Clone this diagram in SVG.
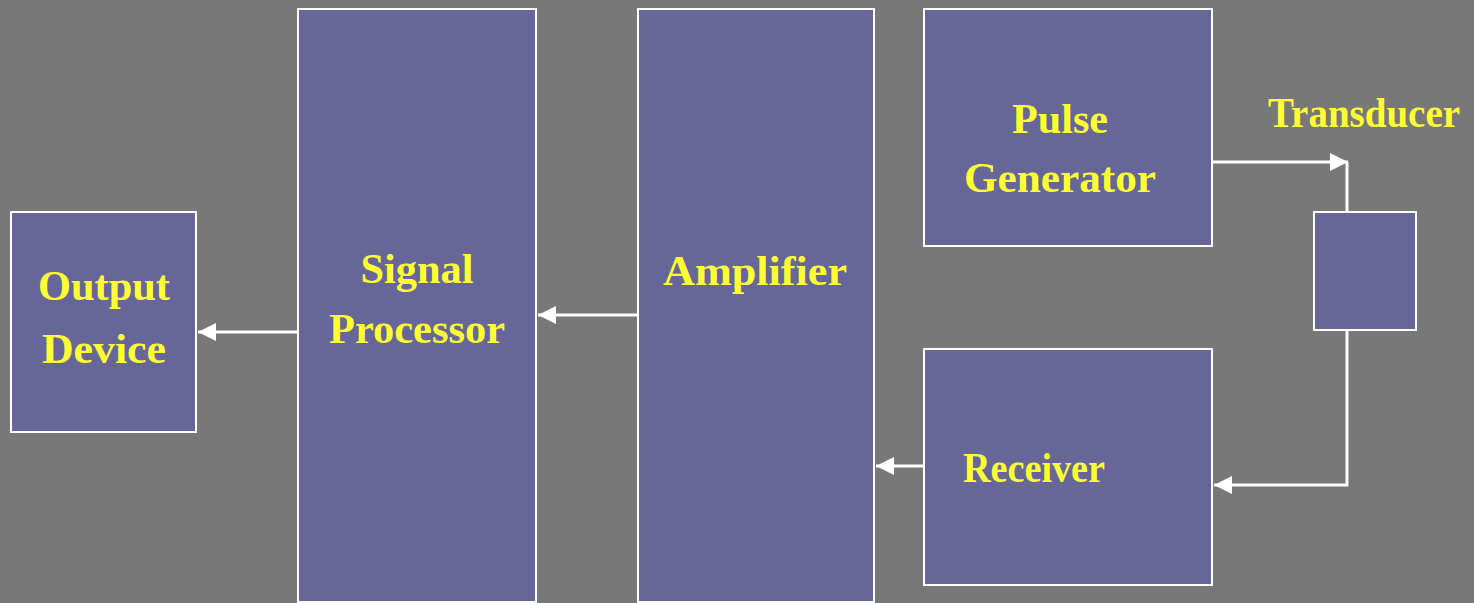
<svg xmlns="http://www.w3.org/2000/svg" width="1474" height="603" viewBox="0 0 1474 603">
<style>
.box{fill:#666699;stroke:#ffffff;stroke-width:2}
.lbl{font-family:"Liberation Serif","Times New Roman",serif;font-weight:bold;font-size:42px;fill:#ffff33;text-anchor:middle}
.con{fill:none;stroke:#ffffff;stroke-width:3}
</style>
<defs>
<marker id="arr" viewBox="0 0 12 12" refX="12" refY="6" markerWidth="18" markerHeight="18" markerUnits="userSpaceOnUse" orient="auto">
<path d="M0,0 L12,6 L0,12 z" fill="#ffffff"/>
</marker>
</defs>
<rect width="1474" height="603" fill="#787878"/>
<g id="output-device">
<rect class="box" x="11" y="212" width="185" height="220"/>
<text class="lbl" x="104" y="300" textLength="132" lengthAdjust="spacingAndGlyphs">Output</text>
<text class="lbl" x="104" y="363" textLength="124" lengthAdjust="spacingAndGlyphs">Device</text>
</g>
<g id="signal-processor">
<rect class="box" x="298" y="9" width="238" height="593"/>
<text class="lbl" x="417" y="283" textLength="113" lengthAdjust="spacingAndGlyphs">Signal</text>
<text class="lbl" x="417" y="343" textLength="176" lengthAdjust="spacingAndGlyphs">Processor</text>
</g>
<g id="amplifier">
<rect class="box" x="638" y="9" width="236" height="593"/>
<text class="lbl" x="755" y="285" textLength="184" lengthAdjust="spacingAndGlyphs">Amplifier</text>
</g>
<g id="pulse-generator">
<rect class="box" x="924" y="9" width="288" height="237"/>
<text class="lbl" x="1060" y="133" textLength="96" lengthAdjust="spacingAndGlyphs">Pulse</text>
<text class="lbl" x="1060" y="192" textLength="192" lengthAdjust="spacingAndGlyphs">Generator</text>
</g>
<g id="receiver">
<rect class="box" x="924" y="349" width="288" height="236"/>
<text class="lbl" x="1034" y="482" textLength="142" lengthAdjust="spacingAndGlyphs">Receiver</text>
</g>
<g id="transducer">
<rect class="box" x="1314" y="212" width="102" height="118"/>
<text class="lbl" x="1364" y="127" textLength="192" lengthAdjust="spacingAndGlyphs">Transducer</text>
</g>
<g id="connectors">
<path class="con" d="M298,332 L198,332" marker-end="url(#arr)"/>
<path class="con" d="M638,315 L538,315" marker-end="url(#arr)"/>
<path class="con" d="M924,466 L876,466" marker-end="url(#arr)"/>
<path class="con" d="M1212,162 L1348,162" marker-end="url(#arr)"/>
<path class="con" d="M1347,162 L1347,212"/>
<path class="con" d="M1347,330 L1347,485 L1214,485" marker-end="url(#arr)"/>
</g>
</svg>
